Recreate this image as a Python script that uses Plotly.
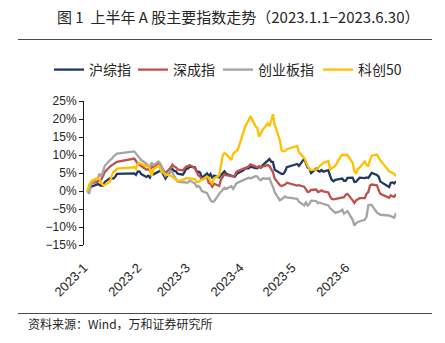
import pandas as pd
import plotly.graph_objects as go

# Trading days of 2023 H1 (SSE calendar)
holidays = ["2023-01-23", "2023-01-24", "2023-01-25", "2023-01-26", "2023-01-27",
            "2023-04-05", "2023-05-01", "2023-05-02", "2023-05-03",
            "2023-06-22", "2023-06-23"]
days = pd.bdate_range("2023-01-03", "2023-06-30")
dates = [d for d in days if d.strftime("%Y-%m-%d") not in holidays]

# Cumulative change since the first trading day, %
sse = [0, 0.22, 1.24, 1.32, 1.91, 1.70, 1.45, 1.51, 2.53, 3.56, 3.46, 3.46, 3.97, 4.76, 4.90, 4.47,
       5.40, 5.43, 4.71, 3.92, 4.22, 3.71, 4.94, 4.63, 5.38, 5.67, 5.26, 4.25, 3.45, 5.58, 6.10, 5.60, 5.49, 4.83, 4.54, 5.23,
       6.28, 6.23, 6.80, 6.59, 5.41, 5.35, 5.12, 3.64, 4.88, 4.13, 4.71, 3.54, 4.30, 3.80, 4.46, 4.79, 5.46, 4.79, 4.33, 4.14, 3.96, 4.64, 5.02,
       5.77, 6.29, 6.29, 6.77, 6.38, 6.32, 6.76, 6.48, 7.11, 8.63, 8.88, 8.14, 8.04, 5.93, 5.10, 4.74, 4.76, 5.43, 6.63,
       7.51, 6.99, 8.94, 7.74, 6.50, 6.19, 5.00, 6.23, 5.60, 5.38, 5.80, 5.36, 5.77, 4.16, 3.08, 2.72, 3.08, 3.37, 3.46, 2.83,
       2.83, 3.64, 3.72, 2.53, 2.61, 3.12, 3.69, 3.60, 3.76, 3.61, 4.38, 5.03, 4.47, 3.97, 2.61, 1.09, 2.30, 2.40, 2.11, 2.74]

szse = [0, 0.8, 2.0, 2.2, 2.7, 2.8, 3.2, 4.2, 5.3, 6.8, 7.1, 7.5, 7.6, 8.1, 9.0, 8.3,
        7.6, 7.3, 6.9, 5.9, 6.1, 5.6, 7.0, 6.5, 7.6, 7.4, 6.4, 5.5, 4.9, 6.5, 7.3, 6.8, 6.6, 6.0, 5.7, 6.3,
        6.8, 6.9, 7.2, 6.3, 5.0, 4.3, 4.0, 3.2, 3.9, 2.2, 2.0, 1.2, 2.0, 1.4, 3.2, 3.8, 4.6, 4.4, 4.2, 4.0, 4.3, 5.3, 5.6,
        6.2, 6.6, 6.8, 7.4, 6.8, 6.6, 6.9, 6.5, 6.8, 7.2, 6.9, 6.2, 5.2, 3.5, 1.6, 1.4, 1.5, 1.8, 2.3,
        1.5, 1.6, 1.2, 0.5, -0.3, -0.2, 0.3, 0.4, -0.3, -0.1, 0.2, -0.1, -0.4, -1.6, -2.2, -2.3, -2.2, -2.0, -1.8, -1.7,
        -1.0, -0.8, -2.6, -3.3, -2.6, -2.3, -2.0, -2.0, -0.8, -0.3, 1.5, 1.8, 1.6, 0.2, -0.8, -1.9, -1.2, -1.5, -1.6, -0.9]

chinext = [0, -0.8, 2.0, 2.4, 3.6, 4.8, 4.0, 5.5, 7.0, 8.6, 8.9, 9.6, 9.9, 10.4, 11.0, 10.3,
           9.8, 9.2, 8.6, 7.6, 7.2, 6.4, 7.9, 7.2, 8.2, 7.6, 6.3, 5.0, 4.2, 5.6, 5.2, 4.2, 3.3, 2.6, 2.4, 2.5,
           2.3, 2.4, 2.9, 2.1, 1.2, 1.4, 0.9, 0.0, -0.6, -1.6, -2.5, -3.0, -2.9, -0.8, -0.2, 0.3, 0.9, 0.6, 1.3, 0.6, 1.5, 2.2, 2.4,
           3.0, 3.3, 3.7, 3.5, 4.1, 4.0, 3.3, 3.0, 3.5, 3.4, 3.6, 2.2, 1.2, -0.3, -2.6, -2.3, -1.8, -1.5, -1.8,
           -2.2, -3.0, -4.0, -3.2, -4.0, -3.6, -2.7, -2.8, -3.4, -3.2, -3.5, -3.6, -4.0, -4.8, -5.2, -5.8, -6.1, -5.6, -5.2, -6.3,
           -6.0, -5.6, -8.0, -9.6, -8.9, -8.6, -8.4, -8.0, -7.2, -4.0, -3.8, -3.9, -6.0, -6.3, -6.6, -6.8, -7.0, -7.3, -7.4, -6.1]

star50 = [0, 1.8, 2.6, 3.0, 3.6, 3.2, 2.2, 1.6, 1.7, 2.6, 4.3, 5.3, 5.6, 6.2, 6.6, 6.2,
          7.6, 7.8, 7.5, 6.9, 7.1, 6.0, 4.1, 6.0, 7.0, 6.2, 5.2, 5.0, 4.6, 4.3, 4.0, 3.6, 3.2, 2.7, 3.1, 3.3,
          3.6, 3.5, 3.6, 3.3, 2.6, 2.5, 2.9, 3.1, 4.0, 3.7, 2.6, 2.1, 3.5, 4.3, 7.0, 9.8, 10.5, 10.3, 8.6, 10.3, 10.8, 11.0, 11.8,
          16.5, 17.9, 19.7, 20.8, 18.0, 17.5, 15.1, 16.0, 16.9, 18.8, 18.0, 19.5, 21.3, 18.5, 14.1, 11.3, 11.0, 11.1, 11.6,
          12.5, 10.8, 9.2, 8.1, 7.4, 6.0, 5.8, 6.0, 6.3, 7.0, 7.3, 7.8, 8.3, 6.0, 6.3, 6.6, 7.0, 9.5, 10.0, 10.0,
          10.0, 10.0, 7.8, 5.5, 4.8, 6.2, 6.5, 8.2, 7.2, 7.0, 8.6, 9.8, 10.1, 9.3, 8.5, 5.5, 5.3, 5.0, 4.8, 4.1]

names = ["沪综指", "深成指", "创业板指", "科创50"]
colors = ["#203864", "#C0504D", "#A5A5A5", "#FFC000"]
series = [sse, szse, chinext, star50]

month_ticks = ["2023-01-01", "2023-02-01", "2023-03-01", "2023-04-01", "2023-05-01", "2023-06-01"]
month_labels = ["2023-1", "2023-2", "2023-3", "2023-4", "2023-5", "2023-6"]
y_ticks = [-15, -10, -5, 0, 5, 10, 15, 20, 25]
y_labels = [f"{v}%".replace("-", "−") for v in y_ticks]
y_range = [-15, 25]

FONT = "Liberation Sans, Noto Sans CJK SC, sans-serif"
CJK = "Noto Sans CJK SC, sans-serif"
TXT = "#262626"

# Whole figure is the paper; axes sit in a pixel box x 84..396, y 101..245
W, H = 445, 343
X0, X1, Y0, Y1 = 84, 396, 101, 245
def px(x):
    return x / W
def py(y):
    return 1 - y / H

zero_frac = (0 - y_range[0]) / (y_range[1] - y_range[0])
zero_pos = py(Y1) + zero_frac * (py(Y0) - py(Y1))

fig = go.Figure()
legend_ids = ["legend", "legend2", "legend3", "legend4"]
legend_left = [49, 133, 218, 318]
for name, col, vals, lg in zip(names, colors, series, legend_ids):
    fig.add_trace(go.Scatter(x=dates, y=vals, name=name, mode="lines", legend=lg,
                             line=dict(color=col, width=2.3)))

# page rules (above the legend, above the source note) on a full-page pixel frame
for yy in (39.5, 313.5):
    fig.add_trace(go.Scatter(x=[18, 432], y=[yy, yy], mode="lines", xaxis="x3", yaxis="y3",
                             line=dict(color="#4a4a4a", width=1.2), showlegend=False,
                             hoverinfo="skip"))

legends = {}
for lg, left in zip(legend_ids, legend_left):
    legends[lg] = dict(orientation="h", x=px(left), xanchor="left", y=py(70), yanchor="middle",
                       font=dict(family=CJK, size=14, color=TXT), itemwidth=30,
                       bgcolor="rgba(0,0,0,0)", borderwidth=0)

x_range = ["2023-01-01", "2023-06-30"]
fig.update_layout(
    template="none",
    width=W, height=H,
    margin=dict(l=0, r=0, t=0, b=0, autoexpand=False),
    paper_bgcolor="white", plot_bgcolor="rgba(0,0,0,0)",
    font=dict(family=FONT, size=12, color=TXT),
    showlegend=True,
    **legends,
    xaxis=dict(type="date", range=x_range, domain=[px(X0), px(X1)], anchor="y",
               automargin=False, showgrid=False, zeroline=False, showline=False,
               tickvals=month_ticks, ticktext=month_labels, tickangle=-45,
               ticks="outside", ticklen=9, tickcolor="rgba(0,0,0,0)",
               tickfont=dict(family=FONT, size=13, color=TXT)),
    xaxis2=dict(type="date", range=x_range, domain=[px(X0), px(X1)], overlaying="x",
                anchor="free", position=zero_pos, automargin=False,
                showgrid=False, zeroline=False, showline=True, linecolor="#1a1a1a", linewidth=1,
                tickvals=month_ticks, ticks="outside", ticklen=4, tickcolor="#1a1a1a",
                showticklabels=False),
    yaxis=dict(range=y_range, domain=[py(Y1), py(Y0)], anchor="x", automargin=False,
               tickvals=y_ticks, ticktext=y_labels, showgrid=False, zeroline=False,
               showline=True, linecolor="#1a1a1a", linewidth=1, ticks="outside", ticklen=4,
               tickcolor="#1a1a1a", tickfont=dict(family=FONT, size=12, color=TXT)),
    xaxis3=dict(domain=[0, 1], range=[0, W], anchor="y3", visible=False, fixedrange=True),
    yaxis3=dict(domain=[0, 1], range=[H, 0], anchor="x3", visible=False, fixedrange=True),
)

fig.add_annotation(text="图 1  上半年 A 股主要指数走势（2023.1.1−2023.6.30）",
                   xref="paper", yref="paper", x=px(238), y=py(16),
                   xanchor="center", yanchor="middle", showarrow=False,
                   font=dict(family=CJK, size=15, color=TXT))
fig.add_annotation(text="资料来源：Wind，万和证券研究所", xref="paper", yref="paper",
                   x=px(120), y=py(323), xanchor="center", yanchor="middle",
                   showarrow=False, font=dict(family=CJK, size=12, color=TXT))

fig.write_html("out.html")
